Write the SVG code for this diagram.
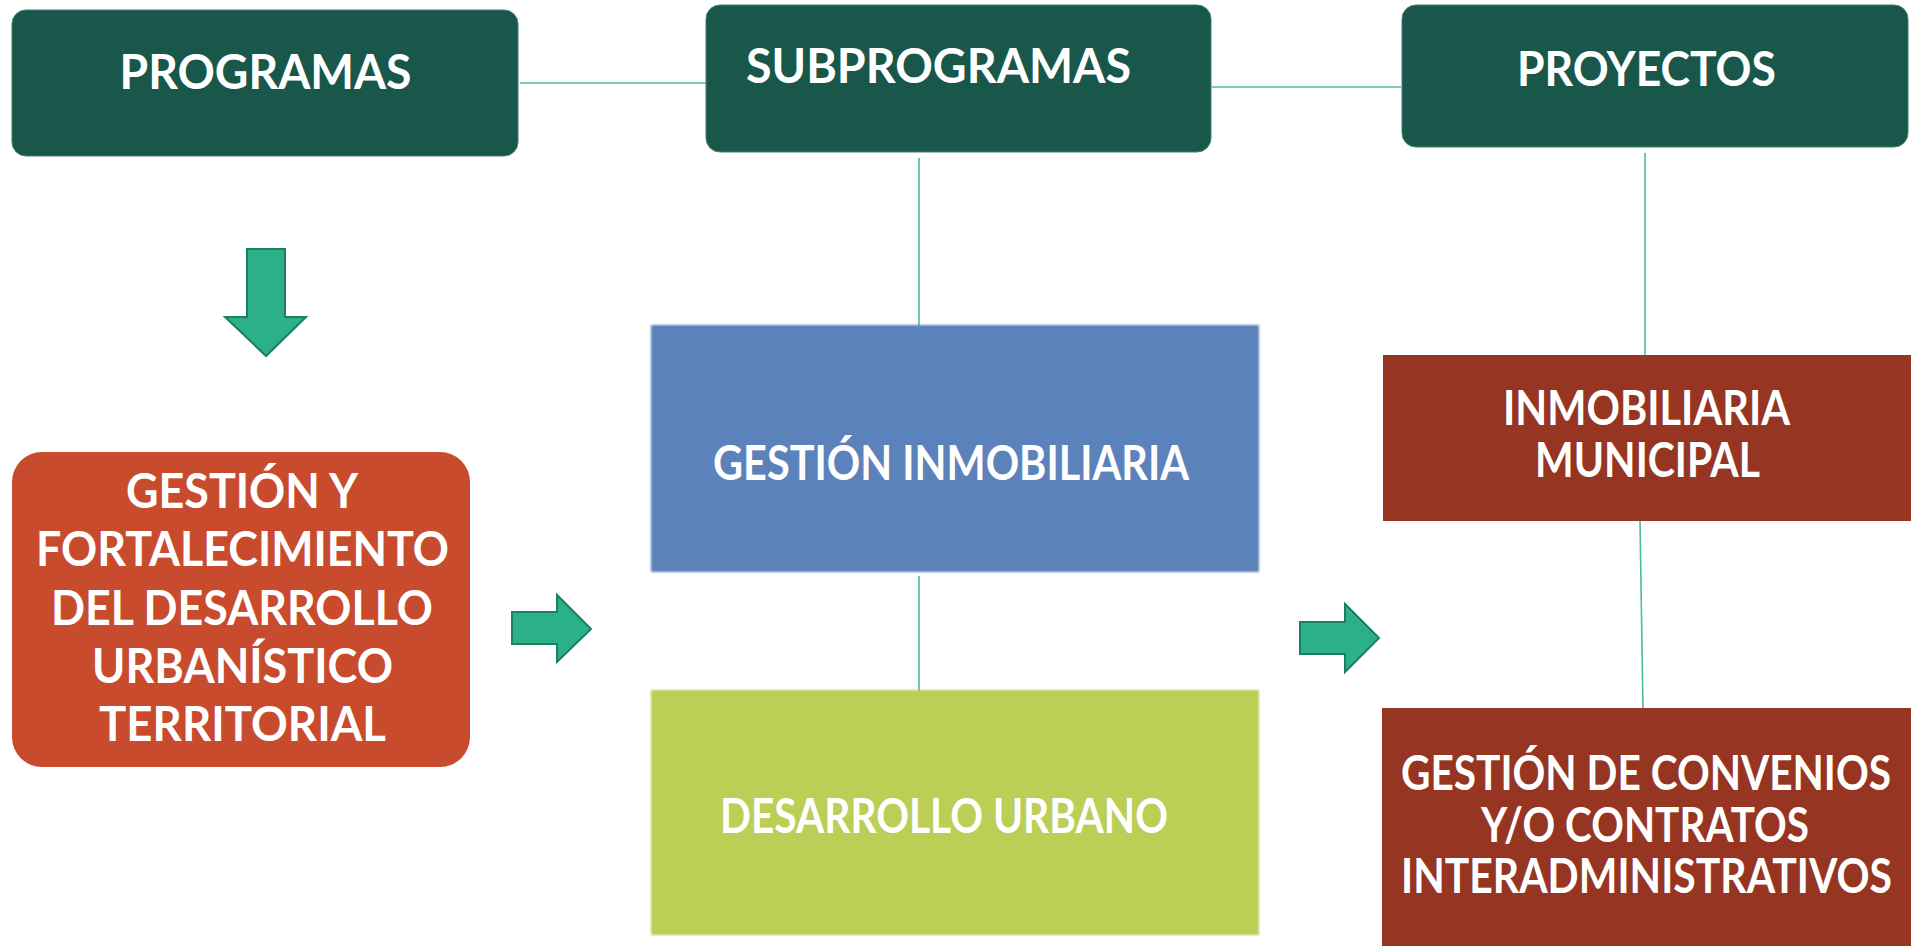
<svg xmlns="http://www.w3.org/2000/svg" width="1911" height="946" viewBox="0 0 1911 946">
<style>
.hdr{fill:#18574a;stroke:#3f7f70;stroke-width:1}
.t{font-family:Lato,"Open Sans","Liberation Sans",sans-serif;font-weight:700;fill:#ffffff;font-size:47px}
.conn{stroke:#4cbc9a;stroke-width:1.6;fill:none}
.arr{fill:#2bb08a;stroke:#1c7f62;stroke-width:2;stroke-linejoin:miter}
</style>
<defs>
<filter id="soft" x="-2%" y="-2%" width="104%" height="104%"><feGaussianBlur stdDeviation="1.2"/></filter>
</defs>
<rect width="1911" height="946" fill="#ffffff"/>
<g id="connectors">
<line class="conn" x1="520" y1="83" x2="706" y2="83"/>
<line class="conn" x1="1212" y1="87" x2="1401" y2="87"/>
<line class="conn" x1="919" y1="158" x2="919" y2="326"/>
<line class="conn" x1="919" y1="576" x2="919" y2="692"/>
<line class="conn" x1="1645" y1="153" x2="1645" y2="356"/>
<line class="conn" x1="1640" y1="521" x2="1643" y2="709"/>
</g>
<g id="programas">
<rect class="hdr" x="12" y="10" width="506" height="146" rx="14"/>
<text class="t" x="265.5" y="89" text-anchor="middle" textLength="292" lengthAdjust="spacingAndGlyphs">PROGRAMAS</text>
</g>
<g id="subprogramas">
<rect class="hdr" x="706" y="5" width="505" height="147" rx="14"/>
<text class="t" x="938.5" y="83" text-anchor="middle" textLength="385" lengthAdjust="spacingAndGlyphs">SUBPROGRAMAS</text>
</g>
<g id="proyectos">
<rect class="hdr" x="1402" y="5" width="506" height="142" rx="14"/>
<text class="t" x="1646.5" y="86" text-anchor="middle" textLength="259" lengthAdjust="spacingAndGlyphs">PROYECTOS</text>
</g>
<g id="arrow-down">
<polygon class="arr" points="247,249 285,249 285,317 306,317 266,356 225,317 247,317"/>
</g>
<g id="gestion-fortalecimiento">
<rect x="12" y="452" width="458" height="315" rx="30" fill="#c84b2e"/>
<text class="t" text-anchor="middle">
<tspan x="242" y="508" textLength="232" lengthAdjust="spacingAndGlyphs">GESTIÓN Y</tspan>
</text>
<text class="t" x="242.5" y="566" text-anchor="middle" textLength="413" lengthAdjust="spacingAndGlyphs">FORTALECIMIENTO</text>
<text class="t" x="242" y="625" text-anchor="middle" textLength="382" lengthAdjust="spacingAndGlyphs">DEL DESARROLLO</text>
<text class="t" x="242.5" y="683" text-anchor="middle" textLength="301" lengthAdjust="spacingAndGlyphs">URBANÍSTICO</text>
<text class="t" x="242.5" y="741" text-anchor="middle" textLength="287" lengthAdjust="spacingAndGlyphs">TERRITORIAL</text>
</g>
<g id="arrow-right-1">
<polygon class="arr" points="512,612 557,612 557,595 591,629 557,662 557,644 512,644"/>
</g>
<g id="gestion-inmobiliaria">
<rect x="651" y="325" width="608" height="247" fill="#5b82bb" filter="url(#soft)"/>
<text class="t" x="951" y="480" text-anchor="middle" textLength="476" lengthAdjust="spacingAndGlyphs">GESTIÓN INMOBILIARIA</text>
</g>
<g id="desarrollo-urbano">
<rect x="651" y="690" width="608" height="245" fill="#bbce57" filter="url(#soft)"/>
<text class="t" x="944" y="833" text-anchor="middle" textLength="448" lengthAdjust="spacingAndGlyphs">DESARROLLO URBANO</text>
</g>
<g id="arrow-right-2">
<polygon class="arr" points="1300,622 1345,622 1345,604 1379,638 1345,672 1345,654 1300,654"/>
</g>
<g id="inmobiliaria-municipal">
<rect x="1383" y="355" width="528" height="166" fill="#953522"/>
<text class="t" x="1646.5" y="425" text-anchor="middle" textLength="287" lengthAdjust="spacingAndGlyphs">INMOBILIARIA</text>
<text class="t" x="1647.5" y="477" text-anchor="middle" textLength="225" lengthAdjust="spacingAndGlyphs">MUNICIPAL</text>
</g>
<g id="gestion-convenios">
<rect x="1382" y="708" width="529" height="238" fill="#953522"/>
<text class="t" x="1646" y="790" text-anchor="middle" textLength="490" lengthAdjust="spacingAndGlyphs">GESTIÓN DE CONVENIOS</text>
<text class="t" x="1645" y="842" text-anchor="middle" textLength="328" lengthAdjust="spacingAndGlyphs">Y/O CONTRATOS</text>
<text class="t" x="1646.5" y="893" text-anchor="middle" textLength="491" lengthAdjust="spacingAndGlyphs">INTERADMINISTRATIVOS</text>
</g>
</svg>
